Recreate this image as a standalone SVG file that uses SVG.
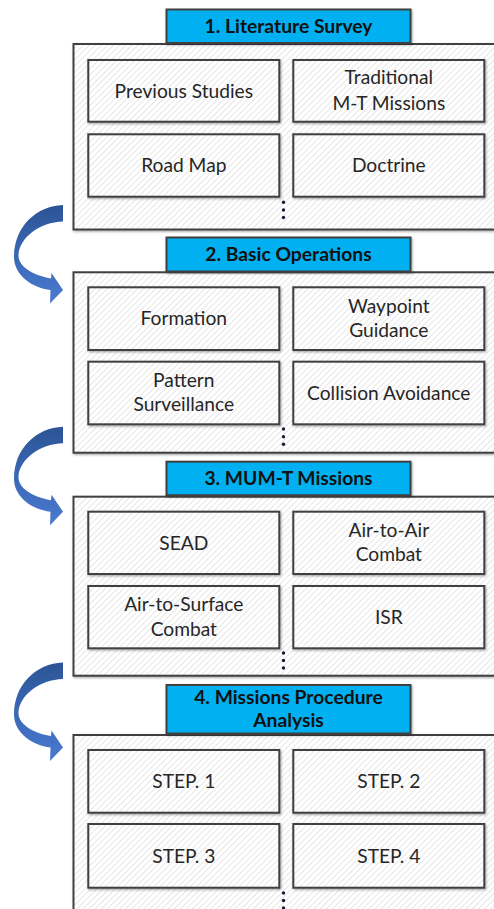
<svg xmlns="http://www.w3.org/2000/svg" width="494" height="909" viewBox="0 0 494 909">
<defs>
<pattern id="hatch" patternUnits="userSpaceOnUse" width="4.3" height="4.3" patternTransform="rotate(45)">
<rect width="4.3" height="4.3" fill="#ffffff"/>
<line x1="0.5" y1="0" x2="0.5" y2="4.3" stroke="#dcdcdc" stroke-width="0.7"/>
</pattern>
<linearGradient id="arrowGrad" x1="0" y1="0" x2="0" y2="1">
<stop offset="0" stop-color="#2c5496"/>
<stop offset="1" stop-color="#4a7bd2"/>
</linearGradient>
<filter id="shadow" x="-5%" y="-5%" width="110%" height="115%">
<feDropShadow dx="1" dy="1.2" stdDeviation="0.8" flood-color="#000" flood-opacity="0.35"/>
</filter>
<path id="curvedArrow" d="M63,0 C36,1 14,22 14,52 C14,70 32,83 50.5,85 L50,98.5 L63,85 L51.5,68 L51,73.5 C30,70 18,60 18.5,50 C19,33 40,17 63,16.5 Z"/>
</defs>
<style>
.outer{fill:url(#hatch);stroke:#404040;stroke-width:2;filter:url(#shadow)}
.inner{fill:url(#hatch);stroke:#404040;stroke-width:2;filter:url(#shadow)}
.title{fill:#00b0f0;stroke:#404040;stroke-width:2;filter:url(#shadow)}
.tt{font-family:Lato,"Liberation Sans",sans-serif;font-weight:bold;font-size:19.3px;fill:#111;text-anchor:middle}
.t{font-family:Lato,"Liberation Sans",sans-serif;font-size:19.2px;fill:#262626;text-anchor:middle}
.dot{fill:#1a1a33}
.arrow{fill:url(#arrowGrad)}
</style>

<g id="connectors">
<use href="#curvedArrow" class="arrow" transform="translate(0,205)"/>
<use href="#curvedArrow" class="arrow" transform="translate(0,426.7)"/>
<use href="#curvedArrow" class="arrow" transform="translate(0,662.5)"/>
</g>

<g id="section1">
<rect class="outer" x="73.5" y="44" width="440" height="185.5"/>
<rect class="title" x="166.5" y="9.5" width="244" height="33.5"/>
<text class="tt" x="288.5" y="33">1. Literature Survey</text>
<g id="previous-studies"><rect class="inner" x="88.3" y="60" width="191" height="61.7"/><text class="t" x="183.8" y="97.5">Previous Studies</text></g>
<g id="traditional-mt"><rect class="inner" x="293.3" y="60" width="191" height="61.7"/><text class="t" x="388.8" y="84.3">Traditional</text><text class="t" x="388.8" y="109.5">M-T Missions</text></g>
<g id="road-map"><rect class="inner" x="88.3" y="134.3" width="191" height="62.4"/><text class="t" x="183.8" y="172.2">Road Map</text></g>
<g id="doctrine"><rect class="inner" x="293.3" y="134.3" width="191" height="62.4"/><text class="t" x="388.8" y="172.2">Doctrine</text></g>
<circle class="dot" cx="283.5" cy="202.3" r="1.7"/><circle class="dot" cx="283.5" cy="210" r="1.7"/><circle class="dot" cx="283.5" cy="217.5" r="1.7"/>
</g>

<g id="section2">
<rect class="outer" x="73.5" y="272.3" width="440" height="180.4"/>
<rect class="title" x="166.5" y="237.5" width="244" height="34"/>
<text class="tt" x="288.5" y="261.2">2. Basic Operations</text>
<g id="formation"><rect class="inner" x="88.3" y="287.3" width="191" height="62.7"/><text class="t" x="183.8" y="325.4">Formation</text></g>
<g id="waypoint-guidance"><rect class="inner" x="293.3" y="287.3" width="191" height="62.7"/><text class="t" x="388.8" y="312.5">Waypoint</text><text class="t" x="388.8" y="337">Guidance</text></g>
<g id="pattern-surveillance"><rect class="inner" x="88.3" y="361.7" width="191" height="62.6"/><text class="t" x="183.8" y="387">Pattern</text><text class="t" x="183.8" y="411.3">Surveillance</text></g>
<g id="collision-avoidance"><rect class="inner" x="293.3" y="361.7" width="191" height="62.6"/><text class="t" x="388.8" y="399.7">Collision Avoidance</text></g>
<circle class="dot" cx="283.5" cy="429" r="1.7"/><circle class="dot" cx="283.5" cy="436.7" r="1.7"/><circle class="dot" cx="283.5" cy="444.3" r="1.7"/>
</g>

<g id="section3">
<rect class="outer" x="73.5" y="496.7" width="440" height="179"/>
<rect class="title" x="166.5" y="461.7" width="244" height="33.5"/>
<text class="tt" x="288.5" y="485.2">3. MUM-T Missions</text>
<g id="sead"><rect class="inner" x="88.3" y="511.7" width="191" height="62.3"/><text class="t" x="183.8" y="549.5">SEAD</text></g>
<g id="air-to-air"><rect class="inner" x="293.3" y="511.7" width="191" height="62.3"/><text class="t" x="388.8" y="536.8">Air-to-Air</text><text class="t" x="388.8" y="561.2">Combat</text></g>
<g id="air-to-surface"><rect class="inner" x="88.3" y="586" width="191" height="62.3"/><text class="t" x="183.8" y="611">Air-to-Surface</text><text class="t" x="183.8" y="635.5">Combat</text></g>
<g id="isr"><rect class="inner" x="293.3" y="586" width="191" height="62.3"/><text class="t" x="388.8" y="623.8">ISR</text></g>
<circle class="dot" cx="283.5" cy="653" r="1.7"/><circle class="dot" cx="283.5" cy="660.5" r="1.7"/><circle class="dot" cx="283.5" cy="668" r="1.7"/>
</g>

<g id="section4">
<rect class="outer" x="73.5" y="735" width="440" height="200"/>
<rect class="title" x="166.5" y="685" width="244" height="48.5"/>
<text class="tt" x="288.5" y="703.5">4. Missions Procedure</text>
<text class="tt" x="288.5" y="727.3">Analysis</text>
<g id="step1"><rect class="inner" x="88.3" y="750" width="191" height="62.7"/><text class="t" x="183.8" y="788">STEP. 1</text></g>
<g id="step2"><rect class="inner" x="293.3" y="750" width="191" height="62.7"/><text class="t" x="388.8" y="788">STEP. 2</text></g>
<g id="step3"><rect class="inner" x="88.3" y="824" width="191" height="63.7"/><text class="t" x="183.8" y="862.5">STEP. 3</text></g>
<g id="step4"><rect class="inner" x="293.3" y="824" width="191" height="63.7"/><text class="t" x="388.8" y="862.5">STEP. 4</text></g>
<circle class="dot" cx="283.5" cy="893" r="1.7"/><circle class="dot" cx="283.5" cy="900.5" r="1.7"/><circle class="dot" cx="283.5" cy="908" r="1.7"/>
</g>
</svg>
